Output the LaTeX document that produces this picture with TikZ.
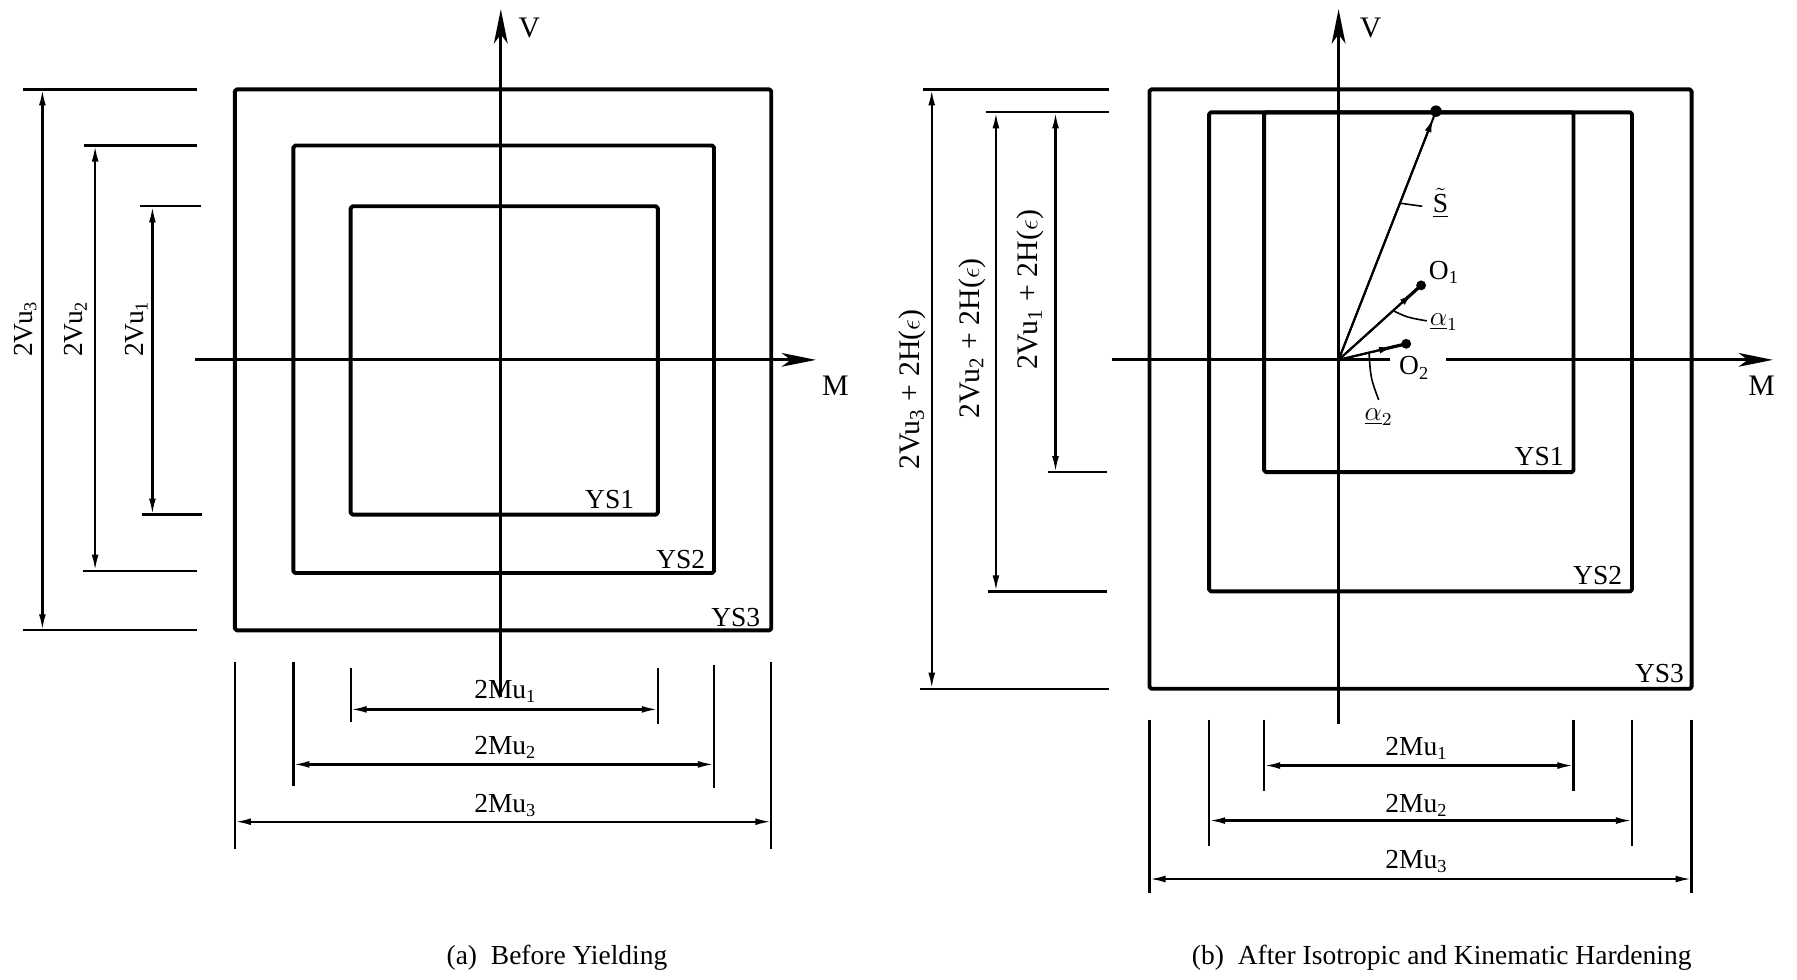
\documentclass[tikz,border=0pt]{standalone}
\usepackage{fontspec}
\setmainfont{Liberation Serif}
\usetikzlibrary{arrows.meta,calc}
\begin{document}
\begin{tikzpicture}[x=0.5pt,y=-0.5pt,
  every node/.style={font=\fontsize{12}{14}\selectfont, inner sep=0pt},
  ysbox/.style={line width=1.7pt, line join=round, rounded corners=0.8pt},
  axis/.style={line width=1.2pt, -{Stealth[length=15pt,width=6pt,inset=4pt]}},
  axisline/.style={line width=1.2pt},
  dimarrow/.style={line width=1pt, {Latex[length=7pt,width=3pt]}-{Latex[length=7pt,width=3pt]}},
  extline/.style={line width=1pt},
  leader/.style={line width=0.7pt},
  vec/.style={line width=0.9pt},
  vecarrow/.style={line width=0.9pt, -{Latex[length=6pt,width=3pt]}},
  bigdot/.style={circle, fill, inner sep=0pt, minimum size=5pt},
  smalldot/.style={circle, fill, inner sep=0pt, minimum size=4.3pt},
  axislabel/.style={font=\fontsize{13}{15}\selectfont},
  rotlabel/.style={rotate=90},
  rotlabelbig/.style={rotate=90, font=\fontsize{13}{15}\selectfont}
]
\useasboundingbox (0,0) rectangle (1568,855);

%% ================= (a) Before Yielding =================
% axes
\coordinate (aVb) at (437,608); \coordinate (aVt) at (437,8);
\coordinate (aMl) at (170,314); \coordinate (aMr) at (712,314);
\draw[axis] (aVb) -- (aVt);
\draw[axis] (aMl) -- (aMr);
\node[axislabel] (aVlab) at (462,24) {V};
\node[axislabel] (aMlab) at (729,337) {M};

% yield surfaces
\draw[ysbox] (205,78) rectangle (673,550);
\draw[ysbox] (256,127) rectangle (623,500);
\draw[ysbox] (306,180) rectangle (574,449);
\node (aYS1) at (532,436) {YS1};
\node (aYS2) at (594,488) {YS2};
\node (aYS3) at (642,539) {YS3};

% vertical dimensions
\coordinate (ae3t1) at (20,78);  \coordinate (ae3t2) at (172,78);
\coordinate (ae3b1) at (20,550); \coordinate (ae3b2) at (172,550);
\coordinate (ae2t1) at (73,127); \coordinate (ae2t2) at (172,127);
\coordinate (ae2b1) at (72,498); \coordinate (ae2b2) at (172,498);
\coordinate (ae1t1) at (122,180); \coordinate (ae1t2) at (175,180);
\coordinate (ae1b1) at (124,449); \coordinate (ae1b2) at (176,449);
\foreach \p in {3t,3b,2t,2b,1t,1b} \draw[extline] (ae\p1) -- (ae\p2);
\coordinate (av3t) at (37,78);  \coordinate (av3b) at (37,550);
\coordinate (av2t) at (83,127); \coordinate (av2b) at (83,498);
\coordinate (av1t) at (133,180); \coordinate (av1b) at (133,449);
\draw[dimarrow] (av3t) -- (av3b);
\draw[dimarrow] (av2t) -- (av2b);
\draw[dimarrow] (av1t) -- (av1b);
\node[rotlabel] (aV3lab) at (22,287) {2Vu\textsubscript{3}};
\node[rotlabel] (aV2lab) at (66,287) {2Vu\textsubscript{2}};
\node[rotlabel] (aV1lab) at (119,287) {2Vu\textsubscript{1}};

% horizontal dimensions
\coordinate (ah3lt) at (205,578); \coordinate (ah3lb) at (205,741);
\coordinate (ah2lt) at (256,578); \coordinate (ah2lb) at (256,686);
\coordinate (ah1lt) at (306,583); \coordinate (ah1lb) at (306,630);
\coordinate (ah1rt) at (574,583); \coordinate (ah1rb) at (574,632);
\coordinate (ah2rt) at (623,580); \coordinate (ah2rb) at (623,688);
\coordinate (ah3rt) at (673,578); \coordinate (ah3rb) at (673,741);
\foreach \p in {3l,2l,1l,1r,2r,3r} \draw[extline] (ah\p t) -- (ah\p b);
\coordinate (am1l) at (306,619); \coordinate (am1r) at (574,619);
\coordinate (am2l) at (256,667); \coordinate (am2r) at (623,667);
\coordinate (am3l) at (205,717); \coordinate (am3r) at (673,717);
\draw[dimarrow] (am1l) -- (am1r);
\draw[dimarrow] (am2l) -- (am2r);
\draw[dimarrow] (am3l) -- (am3r);
\node (aM1lab) at (441,603) {2Mu\textsubscript{1}};
\node (aM2lab) at (441,652) {2Mu\textsubscript{2}};
\node (aM3lab) at (441,703) {2Mu\textsubscript{3}};

\node (acap) at (486,836) {(a)\enspace Before Yielding};

%% ================= (b) After hardening =================
\coordinate (bVb) at (1168,632); \coordinate (bVt) at (1168,8);
\coordinate (bMl) at (970,314); \coordinate (bMg1) at (1213,314);
\coordinate (bMg2) at (1262,314); \coordinate (bMr) at (1547,314);
\draw[axis] (bVb) -- (bVt);
\draw[axisline] (bMl) -- (bMg1);
\draw[axis] (bMg2) -- (bMr);
\node[axislabel] (bVlab) at (1196,24) {V};
\node[axislabel] (bMlab) at (1537,337) {M};

\draw[ysbox] (1003,78) rectangle (1476,601);
\draw[ysbox] (1055,98) rectangle (1424,516);
\draw[ysbox] (1103,98) rectangle (1373,412);
\node (bYS1) at (1343,398) {YS1};
\node (bYS2) at (1394,502) {YS2};
\node (bYS3) at (1448,588) {YS3};

% vertical dimensions
\coordinate (be3t1) at (805,78);  \coordinate (be3t2) at (968,78);
\coordinate (be3b1) at (803,601); \coordinate (be3b2) at (968,601);
\coordinate (be2t1) at (860,98);  \coordinate (be2t2) at (968,98);
\coordinate (be2b1) at (862,516); \coordinate (be2b2) at (966,516);
\coordinate (be1b1) at (914,412); \coordinate (be1b2) at (966,412);
\foreach \p in {3t,3b,2t,2b,1b} \draw[extline] (be\p1) -- (be\p2);
\coordinate (bv3t) at (813,78);  \coordinate (bv3b) at (813,601);
\coordinate (bv2t) at (869,98);  \coordinate (bv2b) at (869,516);
\coordinate (bv1t) at (921,98);  \coordinate (bv1b) at (921,412);
\draw[dimarrow] (bv3t) -- (bv3b);
\draw[dimarrow] (bv2t) -- (bv2b);
\draw[dimarrow] (bv1t) -- (bv1b);
\node[rotlabelbig] (bV3lab) at (796,340) {2Vu\textsubscript{3} + 2H(\(\epsilon\))};
\node[rotlabelbig] (bV2lab) at (848,295) {2Vu\textsubscript{2} + 2H(\(\epsilon\))};
\node[rotlabelbig] (bV1lab) at (899,253) {2Vu\textsubscript{1} + 2H(\(\epsilon\))};

% horizontal dimensions
\coordinate (bh3lt) at (1003,628); \coordinate (bh3lb) at (1003,779);
\coordinate (bh2lt) at (1055,628); \coordinate (bh2lb) at (1055,738);
\coordinate (bh1lt) at (1103,628); \coordinate (bh1lb) at (1103,690);
\coordinate (bh1rt) at (1373,628); \coordinate (bh1rb) at (1373,690);
\coordinate (bh2rt) at (1424,628); \coordinate (bh2rb) at (1424,738);
\coordinate (bh3rt) at (1476,628); \coordinate (bh3rb) at (1476,779);
\foreach \p in {3l,2l,1l,1r,2r,3r} \draw[extline] (bh\p t) -- (bh\p b);
\coordinate (bm1l) at (1103,668); \coordinate (bm1r) at (1373,668);
\coordinate (bm2l) at (1055,716); \coordinate (bm2r) at (1424,716);
\coordinate (bm3l) at (1003,767); \coordinate (bm3r) at (1476,767);
\draw[dimarrow] (bm1l) -- (bm1r);
\draw[dimarrow] (bm2l) -- (bm2r);
\draw[dimarrow] (bm3l) -- (bm3r);
\node (bM1lab) at (1236,653) {2Mu\textsubscript{1}};
\node (bM2lab) at (1236,703) {2Mu\textsubscript{2}};
\node (bM3lab) at (1236,752) {2Mu\textsubscript{3}};

% vectors
\coordinate (org) at (1168,314);
\node[bigdot] (sdot) at (1253,97) {};
\node[smalldot] (o1dot) at (1240,249) {};
\node[smalldot] (o2dot) at (1227,300) {};
\draw[vec] (org) -- (sdot.center);
\draw[vecarrow] (org) -- ($(sdot.center)!3.5pt!(org)$);
\draw[vec] (org) -- (o1dot.center);
\draw[vecarrow] (org) -- ($(o1dot.center)!5pt!(org)$);
\draw[line width=1.4pt] ($(o1dot.center)!9pt!(org)$) -- (o1dot.center);
\draw[vec] (org) -- (o2dot.center);
\draw[vecarrow] (org) -- ($(o2dot.center)!6pt!(org)$);
\draw[line width=1.4pt] ($(o2dot.center)!12pt!(org)$) -- (o2dot.center);

\node (slab) at (1257,177) {\(\underline{\tilde{\mathrm{S}}}\)};
\node (o1lab) at (1260,238) {O\textsubscript{1}};
\node (a1lab) at (1260,281) {\(\underline{\alpha}_1\)};
\node (o2lab) at (1234,321) {O\textsubscript{2}};
\node (a2lab) at (1203,364) {\(\underline{\alpha}_2\)};

\coordinate (sl1) at ($(org)!0.63!(sdot.center)$);
\coordinate (sl2) at (1241,180);
\draw[leader] (sl1) -- (sl2);
\coordinate (al1) at ($(org)!0.66!(o1dot.center)$);
\coordinate (al2) at (1245,280);
\draw[leader] (al1) .. controls (1228,277) .. (al2);
\coordinate (bl1) at ($(org)!0.45!(o2dot.center)$);
\coordinate (bl2) at (1203,349);
\draw[leader] (bl1) .. controls (1196,330) .. (bl2);

\node (bcap) at (1258,836) {(b)\enspace After Isotropic and Kinematic Hardening};
\end{tikzpicture}
\end{document}
